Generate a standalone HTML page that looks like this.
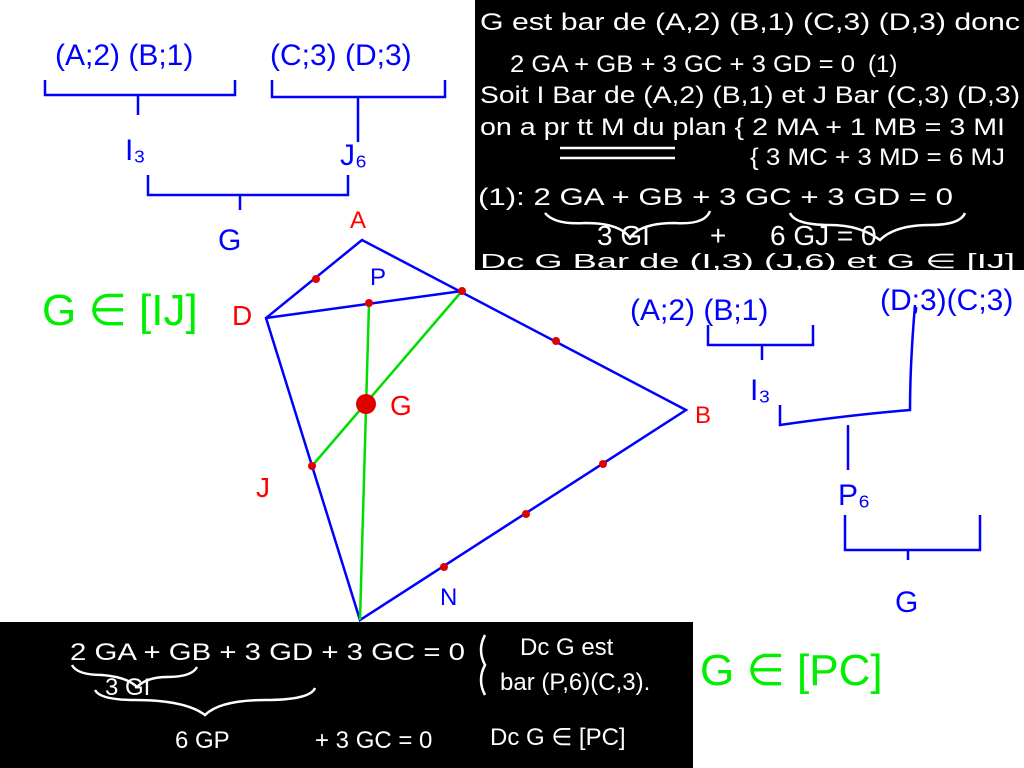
<!DOCTYPE html>
<html><head><meta charset="utf-8"><style>
html,body{margin:0;padding:0;background:#fff;width:1024px;height:768px;overflow:hidden}
svg text{font-family:"Liberation Sans",sans-serif}
</style></head><body>
<svg width="1024" height="768" viewBox="0 0 1024 768" xmlns="http://www.w3.org/2000/svg">
<rect x="475" y="0" width="549" height="270" fill="#000"/>
<rect x="0" y="622" width="693" height="146" fill="#000"/>
<g fill="#fff" font-size="24">
<text x="480" y="30" textLength="540" lengthAdjust="spacingAndGlyphs">G est bar de (A,2) (B,1) (C,3) (D,3) donc</text>
<text x="510" y="72" textLength="345" lengthAdjust="spacingAndGlyphs">2 GA + GB + 3 GC + 3 GD = 0</text>
<text x="868" y="72">(1)</text>
<text x="480" y="103" textLength="540" lengthAdjust="spacingAndGlyphs">Soit I Bar de (A,2) (B,1) et J Bar (C,3) (D,3)</text>
<text x="480" y="135" textLength="525" lengthAdjust="spacingAndGlyphs">on a pr tt M du plan { 2 MA + 1 MB = 3 MI</text>
<text x="750" y="165" textLength="255" lengthAdjust="spacingAndGlyphs">{ 3 MC  + 3 MD = 6 MJ</text>
<text x="478" y="205" textLength="475" lengthAdjust="spacingAndGlyphs">(1):  2 GA + GB +  3 GC + 3 GD = 0</text>
<text x="597" y="245" font-size="28">3 GI</text>
<text x="710" y="245" font-size="28">+</text>
<text x="770" y="245" font-size="28">6 GJ = 0</text>
<text x="480" y="268" font-size="20" textLength="535" lengthAdjust="spacingAndGlyphs">Dc   G Bar de (I,3) (J,6) et G ∈ [IJ]</text>
<text x="70" y="660" textLength="395" lengthAdjust="spacingAndGlyphs">2 GA + GB +  3 GD + 3 GC = 0</text>
<text x="105" y="695">3 GI</text>
<text x="175" y="748">6 GP</text>
<text x="315" y="748">+ 3 GC = 0</text>
<text x="520" y="655">Dc G est</text>
<text x="500" y="690">bar (P,6)(C,3).</text>
<text x="490" y="745">Dc G ∈ [PC]</text>
</g>
<g fill="none" stroke="#fff" stroke-width="2.5">
<path d="M545 213 q10 12 40 10 q35 0 45 15 q10-15 45-15 q30 2 35-12"/>
<path d="M790 213 q5 12 40 12 q30 0 50 15 q15-15 50-15 q30 0 35-12"/>
<path d="M72 665 q5 10 30 10 q25 2 35 12 q10-10 30-10 q25 0 30-10"/>
<path d="M95 690 q5 10 40 10 q50 0 70 15 q15-15 60-15 q45 0 50-12"/>
<path d="M485 635 q-8 15 0 30 q-8 15 0 30"/>
<path d="M560 148 h115 M560 158 h115"/>
</g>
<g fill="#0000ff" font-size="30">
<text x="55" y="65">(A;2) (B;1)</text>
<text x="270" y="65">(C;3) (D;3)</text>
<text x="125" y="160">I₃</text>
<text x="340" y="165">J₆</text>
<text x="218" y="250">G</text>
<text x="630" y="320">(A;2) (B;1)</text>
<text x="880" y="310">(D;3)(C;3)</text>
<text x="750" y="400">I₃</text>
<text x="838" y="505">P₆</text>
<text x="895" y="612">G</text>
<text x="370" y="285" font-size="24">P</text>
<text x="440" y="605" font-size="24">N</text>
</g>
<g fill="none" stroke="#0000ff" stroke-width="2.5">
<path d="M45 80 v15 h190 v-15"/><path d="M138 95 v20"/>
<path d="M272 80 v17 h173 v-17"/><path d="M358 97 v45"/>
<path d="M148 175 v20 h200 v-20"/><path d="M240 195 v15"/>
<path d="M708 325 v20 h105 v-20"/><path d="M762 345 v15"/>
<path d="M915 305 q-5 60 -5 105 q-60 5 -130 15 v-20"/><path d="M848 425 v45"/>
<path d="M845 515 v35 h135 v-35"/><path d="M908 550 v10"/>
<polygon points="362,240 686,410 360,620 266,318"/>
<line x1="266" y1="318" x2="462" y2="291"/>
</g>
<g stroke="#00dd00" stroke-width="2.5">
<line x1="462" y1="291" x2="312" y2="466"/>
<line x1="369" y1="303" x2="360" y2="620"/>
</g>
<g fill="#e00000">
<circle cx="316" cy="279" r="4"/><circle cx="369" cy="303" r="4"/><circle cx="462" cy="291" r="4"/>
<circle cx="556" cy="341" r="4"/><circle cx="603" cy="464" r="4"/><circle cx="526" cy="514" r="4"/>
<circle cx="444" cy="567" r="4"/><circle cx="312" cy="466" r="4"/><circle cx="366" cy="404" r="10"/>
</g>
<g fill="#ff0000" font-size="28">
<text x="350" y="228" font-size="24">A</text>
<text x="695" y="423" font-size="24">B</text>
<text x="232" y="325">D</text>
<text x="390" y="415">G</text>
<text x="256" y="497">J</text>
</g>
<g fill="#00ee00" font-size="44">
<text x="42" y="325">G ∈ [IJ]</text>
<text x="700" y="685">G ∈ [PC]</text>
</g>
</svg>
</body></html>
